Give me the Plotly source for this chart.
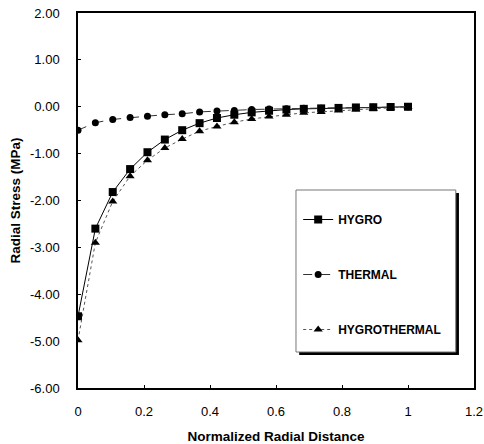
import plotly.graph_objects as go

x_vals = [i / 19 for i in range(20)]
hygro = [-4.47, -2.60, -1.82, -1.33, -0.97, -0.70, -0.50, -0.35, -0.24, -0.17,
         -0.12, -0.085, -0.06, -0.045, -0.035, -0.025, -0.015, -0.01, -0.005, 0.0]
thermal = [-0.50, -0.34, -0.27, -0.23, -0.20, -0.17, -0.15, -0.11, -0.09, -0.08,
           -0.06, -0.05, -0.04, -0.03, -0.03, -0.02, -0.02, -0.01, -0.01, -0.005]
hygrothermal = [-4.98, -2.90, -2.02, -1.48, -1.14, -0.88, -0.69, -0.52, -0.42, -0.33,
                -0.26, -0.21, -0.17, -0.13, -0.11, -0.08, -0.06, -0.04, -0.02, 0.0]
y_ticks = [2, 1, 0, -1, -2, -3, -4, -5, -6]
x_ticks = [0, 0.2, 0.4, 0.6, 0.8, 1, 1.2]

FONT = "Liberation Sans, Arial, sans-serif"

fig = go.Figure()
fig.add_trace(go.Scatter(x=x_vals, y=hygro, name="HYGRO", mode="lines+markers",
                         legendgroup="a",
                         line=dict(color="black", width=1),
                         marker=dict(symbol="square", size=8, color="black")))
fig.add_trace(go.Scatter(x=x_vals, y=thermal, name="THERMAL", mode="lines+markers",
                         legendgroup="b",
                         line=dict(color="#333333", width=1, dash="dash"),
                         marker=dict(symbol="circle", size=7, color="black")))
fig.add_trace(go.Scatter(x=x_vals, y=hygrothermal, name="HYGROTHERMAL", mode="lines+markers",
                         legendgroup="c",
                         line=dict(color="#555555", width=1, dash="dot"),
                         marker=dict(symbol="triangle-up", size=8, color="black")))

# legend frame with drop shadow (paper coords relative to plot area)
fig.add_shape(type="rect", xref="paper", yref="paper", x0=0.5585, x1=0.962, y0=0.088, y1=0.52,
              fillcolor="black", line=dict(width=0), layer="above")
fig.add_shape(type="rect", xref="paper", yref="paper", x0=0.5505, x1=0.954, y0=0.096, y1=0.528,
              fillcolor="white", line=dict(color="#777777", width=1), layer="above")

fig.update_layout(
    width=484, height=444,
    margin=dict(l=78, r=10, t=13, b=56),
    paper_bgcolor="white", plot_bgcolor="white",
    font=dict(family=FONT, color="black", size=12),
    showlegend=True,
    legend=dict(x=0.556, y=0.488, xanchor="left", yanchor="top",
                bgcolor="rgba(0,0,0,0)", borderwidth=0,
                font=dict(family=FONT, size=12, color="black", weight="bold"),
                tracegroupgap=36, itemwidth=30),
    xaxis=dict(range=[0, 1.2], tickvals=x_ticks, ticktext=["0", "0.2", "0.4", "0.6", "0.8", "1", "1.2"],
               showgrid=False, zeroline=False, showline=True, linecolor="black", linewidth=1.5,
               mirror=True, ticks="inside", ticklen=3, tickcolor="black", automargin=False,
               tickfont=dict(size=13), ticklabelstandoff=11,
               title=dict(text="Normalized Radial Distance", font=dict(size=13.5, weight="bold"), standoff=14)),
    yaxis=dict(range=[-6, 2], tickvals=y_ticks, ticktext=[f"{v:.2f}" for v in y_ticks],
               showgrid=False, zeroline=False, showline=True, linecolor="black", linewidth=1.5,
               mirror=True, ticks="inside", ticklen=3, tickcolor="black", automargin=False,
               tickfont=dict(size=13), ticklabelstandoff=14,
               title=dict(text="Radial Stress (MPa)", font=dict(size=13.5, weight="bold"), standoff=6)),
)

fig.write_html("out.html")
